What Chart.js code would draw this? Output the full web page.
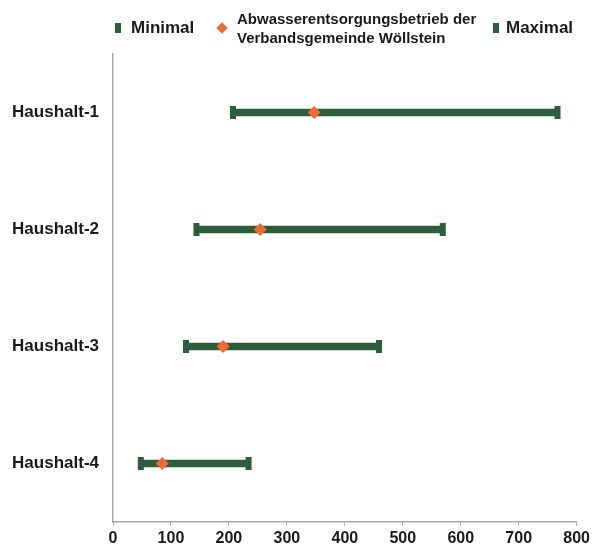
<!DOCTYPE html>
<html>
<head>
<meta charset="utf-8">
<script src="https://cdn.jsdelivr.net/npm/chart.js@4/dist/chart.umd.min.js"></script>
<style>
  html, body { margin:0; padding:0; background:#fff; }
  #wrap { position:relative; width:593px; height:549px; font-family:"Liberation Sans", Arial, sans-serif; font-weight:bold; color:#1a1a1a; }
  canvas { position:absolute; left:0; top:0; }
  .lg { position:absolute; white-space:nowrap; }
  .mk { position:absolute; background:#2d5e3c; width:6px; height:10px; }
  .dm { position:absolute; background:#f06a35; width:8px; height:8px; transform:rotate(45deg); }
</style>
</head>
<body>
<div id="wrap">
  <canvas id="c" width="593" height="549"></canvas>
  <div class="mk" style="left:115px; top:23px;"></div>
  <div class="lg" style="left:131px; top:18px; font-size:17px; line-height:20px;">Minimal</div>
  <div class="dm" style="left:218px; top:24px;"></div>
  <div class="lg" style="left:237px; top:9px; font-size:15px; line-height:19px;">Abwasserentsorgungsbetrieb der<br>Verbandsgemeinde Wöllstein</div>
  <div class="mk" style="left:493px; top:23px;"></div>
  <div class="lg" style="left:506px; top:18px; font-size:17px; line-height:20px;">Maximal</div>
</div>
<script>
const categories = ["Haushalt-1", "Haushalt-2", "Haushalt-3", "Haushalt-4"];
const minimal = [207, 144, 126, 48];
const betrieb = [347, 254, 190, 85];
const maximal = [767, 569, 459, 234];
const xTicks = [0, 100, 200, 300, 400, 500, 600, 700, 800];

const green = "#2d5e3c";
const orange = "#f06a35";

const ranges = categories.map((c, i) => [minimal[i], maximal[i]]);
const pts = arr => categories.map((c, i) => ({ x: arr[i], y: c }));

new Chart(document.getElementById("c"), {
  type: "bar",
  data: {
    labels: categories,
    datasets: [
      { label: "Spanne", data: ranges, backgroundColor: green, barThickness: 7, order: 10, indexAxis: "y" },
      { type: "line", label: "Minimal", data: pts(minimal), showLine: false, indexAxis: "y",
        pointStyle: "line", rotation: 90, pointRadius: 6.5, pointBorderWidth: 6,
        borderColor: green, backgroundColor: green, order: 1 },
      { type: "line", label: "Maximal", data: pts(maximal), showLine: false, indexAxis: "y",
        pointStyle: "line", rotation: 90, pointRadius: 6.5, pointBorderWidth: 6,
        borderColor: green, backgroundColor: green, order: 1 },
      { type: "line", label: "Abwasserentsorgungsbetrieb der Verbandsgemeinde Wöllstein", data: pts(betrieb),
        showLine: false, indexAxis: "y", pointStyle: "rectRot", pointRadius: 6.5, pointBorderWidth: 0,
        borderColor: orange, backgroundColor: orange, order: 0 }
    ]
  },
  options: {
    indexAxis: "y",
    responsive: false,
    animation: false,
    devicePixelRatio: 1,
    layout: { padding: { top: 54, right: 16, left: 0, bottom: 0 } },
    plugins: { legend: { display: false }, tooltip: { enabled: false } },
    scales: {
      x: {
        type: "linear",
        min: 0, max: 800,
        afterBuildTicks: s => { s.ticks = xTicks.map(v => ({ value: v })); },
        afterFit: s => { s.height = 27; },
        grid: { drawOnChartArea: false, drawTicks: true, tickLength: 4, color: "#b5b5b5" },
        border: { display: true, color: "#a8a8a8", width: 1.5 },
        ticks: { color: "#1a1a1a", font: { family: "Liberation Sans", size: 16, weight: "bold" }, padding: 3, maxRotation: 0 }
      },
      y: {
        type: "category",
        labels: categories,
        afterFit: s => { s.width = 113; },
        grid: { display: false, drawTicks: false },
        border: { display: true, color: "#a8a8a8", width: 1.5 },
        ticks: { color: "#1a1a1a", font: { family: "Liberation Sans", size: 17, weight: "bold" }, padding: 14 }
      }
    }
  }
});
</script>
</body>
</html>
